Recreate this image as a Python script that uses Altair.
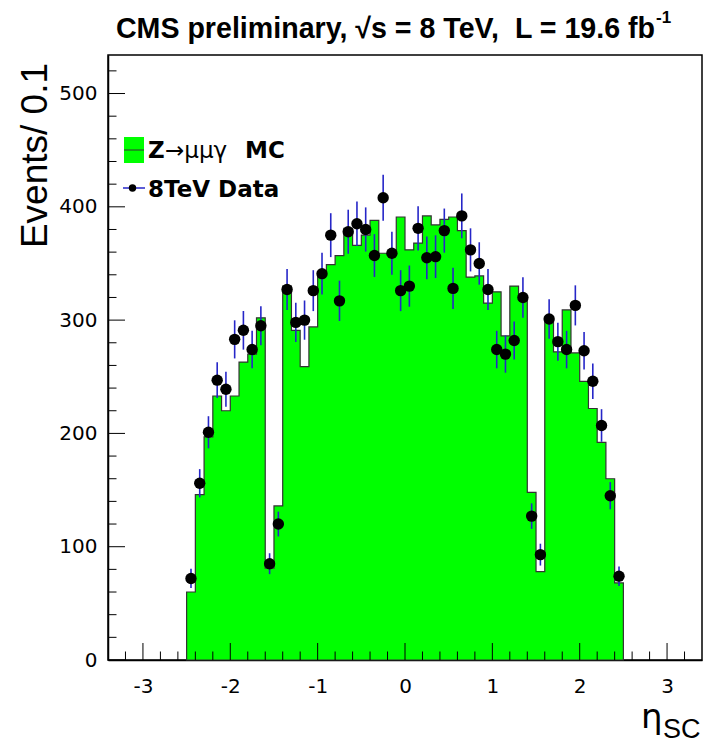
import altair as alt
import pandas as pd

# ---- binning of eta_SC: 50 bins of width 0.1 in [-2.5, 2.5]
bin_low_edges = [round(-2.5 + 0.1 * i, 1) for i in range(50)]
bin_centres = [round(e + 0.05, 2) for e in bin_low_edges]
upper_edge = 2.5

# ---- Z -> mu mu gamma MC histogram (events / 0.1)
mc_counts = [60, 146, 197, 233, 220, 233, 263, 270, 302, 81,
             136, 330, 291, 259, 294, 340, 349, 357, 381, 366,
             375, 388, 359, 359, 391, 362, 368, 392, 384, 389,
             391, 379, 338, 339, 315, 325, 286, 330, 318, 148,
             78, 300, 272, 309, 271, 246, 222, 192, 160, 68]

# ---- 8 TeV data (events / 0.1)
data_counts = [72, 156, 201, 247, 239, 283, 291, 274, 295, 85,
               120, 327, 298, 300, 326, 341, 375, 317, 378, 385,
               380, 357, 408, 359, 326, 330, 381, 355, 356, 379,
               328, 392, 362, 350, 327, 274, 270, 282, 320, 127,
               93, 301, 281, 274, 313, 273, 246, 207, 145, 74]

# ---- axis ticks
x_major = [-3, -2, -1, 0, 1, 2, 3]
x_minor = [round(-3.4 + 0.2 * k, 1) for k in range(1, 34) if (k - 2) % 5 != 0]
y_major = [0, 100, 200, 300, 400, 500]
y_minor = [v for v in range(20, 540, 20) if v % 100 != 0]

W, H = 594, 605

mc_df = pd.DataFrame({"edge": bin_low_edges + [upper_edge], "count": mc_counts + [0]})
data_df = pd.DataFrame({"eta": bin_centres, "n": data_counts})
one = pd.DataFrame({"a": [0]})

xs = alt.Scale(domain=[-3.4, 3.4], nice=False, zero=False)
ys = alt.Scale(domain=[0, 534], nice=False, zero=True)

x_axis = alt.Axis(values=x_major, labelExpr="'' + datum.value", tickSize=0, ticks=False, grid=False,
                  title=None, labelFont="DejaVu Sans", labelFontSize=20, labelColor="black",
                  labelPadding=16, domain=True, domainColor="black", domainWidth=1.5)
y_axis = alt.Axis(values=y_major, format="d", tickSize=0, ticks=False, grid=False, title=None,
                  labelFont="DejaVu Sans", labelFontSize=20, labelColor="black",
                  labelPadding=11, domain=True, domainColor="black", domainWidth=1.5)

X = lambda f: alt.X(f, scale=xs, axis=x_axis, title=None)
Y = lambda f: alt.Y(f, scale=ys, axis=y_axis, title=None)

area = alt.Chart(mc_df).mark_area(
    interpolate="step-after", fill="#00ff00", fillOpacity=1, stroke="#333333", strokeWidth=1.2
).encode(x=X("edge:Q"), y=Y("count:Q"))

errs = alt.Chart(data_df).transform_calculate(
    lo="datum.n - sqrt(datum.n)", hi="datum.n + sqrt(datum.n)"
).mark_rule(color="#2626c8", strokeWidth=1.6).encode(
    x=X("eta:Q"), y=Y("lo:Q"), y2="hi:Q")

pts = alt.Chart(data_df).mark_circle(size=130, color="black", opacity=1).encode(
    x=X("eta:Q"), y=Y("n:Q"))

def xticks(vals, length):
    return alt.Chart(pd.DataFrame({"t": vals})).mark_rule(color="black", strokeWidth=1).encode(
        x=X("t:Q"), y=alt.value(H), y2=alt.value(H - length))

def yticks(vals, length):
    return alt.Chart(pd.DataFrame({"t": vals})).mark_rule(color="black", strokeWidth=1).encode(
        y=Y("t:Q"), x=alt.value(0), x2=alt.value(length))

def txt(s, x, y, size, weight="normal", font="Liberation Sans", align="left", angle=0, baseline="alphabetic"):
    kw = dict(text=s, fontSize=size, fontWeight=weight, font=font, align=align,
              baseline=baseline, color="black")
    if angle:
        kw["angle"] = angle
    return alt.Chart(one).mark_text(**kw).encode(x=alt.value(x), y=alt.value(y))

legend_box = alt.Chart(one).mark_rect(color="#00ff00").encode(
    x=alt.value(16), x2=alt.value(36), y=alt.value(82), y2=alt.value(108))
legend_box_line = alt.Chart(one).mark_rule(color="#333333", strokeWidth=1).encode(
    x=alt.value(16), x2=alt.value(36), y=alt.value(95))
legend_err = alt.Chart(one).mark_rule(color="#2626c8", strokeWidth=1.5).encode(
    x=alt.value(15), x2=alt.value(37), y=alt.value(133))
legend_dot = alt.Chart(one).mark_circle(size=55, color="black", opacity=1).encode(
    x=alt.value(24.5), y=alt.value(133))

NB = "\u00a0"
layers = [
    area, errs, pts,
    xticks(x_major, 17), xticks(x_minor, 8.5),
    yticks(y_major, 17), yticks(y_minor, 8.5),
    txt("CMS preliminary, \u221as = 8 TeV," + NB + NB + "L = 19.6 fb", 547, -17, 28.6, "bold", align="right"),
    txt("-1", 548, -32, 17, "bold"),
    txt("Events/ 0.1", -61, 8, 37, align="right", angle=270),
    txt("\u03b7", 533, 673, 34, font="DejaVu Sans"),
    txt("SC", 555, 683, 27),
    legend_box, legend_box_line, legend_err, legend_dot,
    txt("Z", 40, 103, 23, "bold", font="DejaVu Sans"),
    txt("\u2192\u03bc\u03bc\u03b3", 57, 103, 23, font="DejaVu Sans"),
    txt("MC", 137, 103, 23, "bold", font="DejaVu Sans"),
    txt("8TeV Data", 40, 142, 23, "bold", font="DejaVu Sans"),
]

chart = alt.layer(*layers).properties(
    width=W, height=H,
    autosize=alt.AutoSizeParams(type="none"),
    padding={"left": 108, "top": 55, "right": 2, "bottom": 84},
    background="white",
).configure_view(stroke="black", strokeWidth=1.5)

chart.save("out.html", embed_options={"renderer": "svg", "actions": False})
